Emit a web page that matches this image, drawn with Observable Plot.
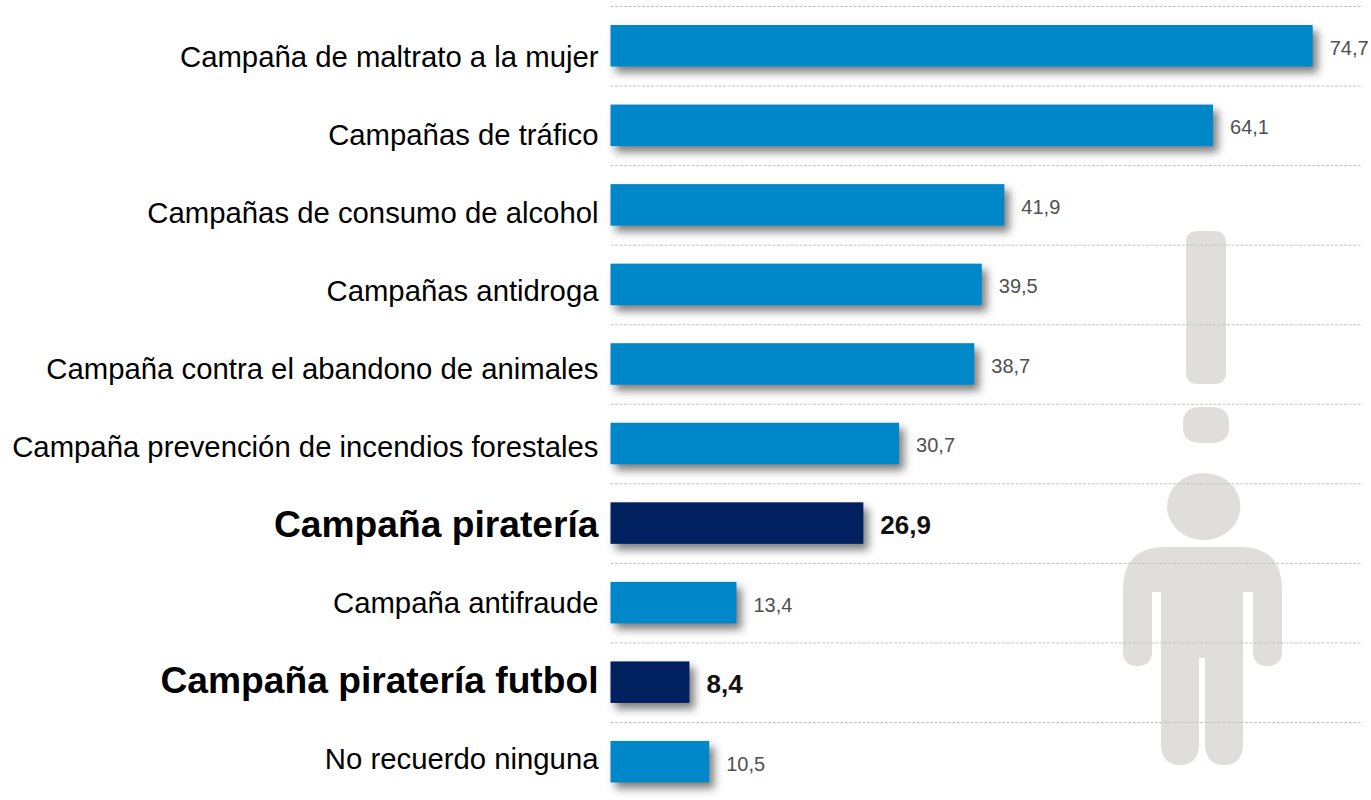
<!DOCTYPE html>
<html lang="es">
<head>
<meta charset="utf-8">
<script src="https://cdn.jsdelivr.net/npm/d3@7"></script>
<script src="https://cdn.jsdelivr.net/npm/@observablehq/plot@0.6"></script>
<style>html,body{margin:0;padding:0;background:#fff}svg{display:block}</style>
</head>
<body>
<div id="chart"></div>
<script>
const categories = [
  "Campaña de maltrato a la mujer",
  "Campañas de tráfico",
  "Campañas de consumo de alcohol",
  "Campañas antidroga",
  "Campaña contra el abandono de animales",
  "Campaña prevención de incendios forestales",
  "Campaña piratería",
  "Campaña antifraude",
  "Campaña piratería futbol",
  "No recuerdo ninguna"
];
const values = [74.7, 64.1, 41.9, 39.5, 38.7, 30.7, 26.9, 13.4, 8.4, 10.5];
const highlighted = ["Campaña piratería", "Campaña piratería futbol"];

const rows = categories.map((name, i) => ({
  name,
  value: values[i],
  kind: highlighted.includes(name) ? "destacada" : "normal"
}));
const fmt = v => v.toFixed(1).replace(".", ",");

// The category labels sit on a slightly tighter rhythm than the bars.
const labelShift = i => 11.2 - 1.55 * i;

// Decorative pictogram behind the chart
const pictogramPaths = [
  "M1198 231H1214Q1226 231 1226 243V372Q1226 384 1214 384H1198Q1186 384 1186 372V243Q1186 231 1198 231Z",
  "M1202 407H1210Q1229 407 1229 422V428Q1229 443 1210 443H1202Q1183 443 1183 428V422Q1183 407 1202 407Z",
  "M1167 506.5A36.7 33.5 0 1 0 1240.4 506.5A36.7 33.5 0 1 0 1167 506.5Z",
  "M1165 547H1240Q1282 547 1282 590V651Q1282 666 1267 666Q1253 666 1253 651V592H1243V743Q1243 765 1224 765Q1205 765 1205 743V658H1199V743Q1199 765 1180 765Q1161 765 1161 743V592H1152V651Q1152 666 1137 666Q1123 666 1123 651V590Q1123 547 1165 547Z"
];
function pictogram() {
  const g = d3.create("svg:g").attr("fill", "#e0dedd");
  pictogramPaths.forEach(d => g.append("path").attr("d", d));
  return g.node();
}

const chart = Plot.plot({
  width: 1371,
  height: 800,
  margin: 0,
  style: {background: "#fff", fontFamily: "'Liberation Sans', Arial, sans-serif"},
  x: {domain: [0, 80], range: [610.5, 1362.5], axis: null},
  y: {type: "band", domain: categories, range: [6, 801.5], paddingInner: 0.478, paddingOuter: 0.239, round: false, axis: null},
  color: {domain: ["normal", "destacada"], range: ["#0087c9", "#00205f"]},
  marks: [
    pictogram,
    Plot.ruleY(categories, {
      y: d => d, x1: 0, x2: 80, dy: -39.75,
      stroke: "#c2c2c2", strokeWidth: 1, strokeDasharray: "3,1.5"
    }),
    Plot.barX(rows, {
      x: "value", y: "name", fill: "kind",
      imageFilter: "drop-shadow(5px 6px 4px rgba(0,0,0,0.5))"
    }),
    ...rows.map((d, i) => Plot.text([d], {
      x: 0, y: "name", text: "name", textAnchor: "end", dx: -12.5, dy: labelShift(i),
      fontSize: d.kind === "destacada" ? 37.2 : 29.3,
      fontWeight: d.kind === "destacada" ? "bold" : "normal",
      fill: "#000"
    })),
    Plot.text(rows.filter(d => d.kind === "normal"), {
      x: "value", y: "name", text: d => fmt(d.value), textAnchor: "start", dx: 16.5, dy: 2,
      fontSize: 20, fill: "#505050"
    }),
    Plot.text(rows.filter(d => d.kind === "destacada"), {
      x: "value", y: "name", text: d => fmt(d.value), textAnchor: "start", dx: 16.5, dy: 2,
      fontSize: 26, fontWeight: "bold", fill: "#111"
    })
  ]
});
document.getElementById("chart").append(chart);
</script>
</body>
</html>
